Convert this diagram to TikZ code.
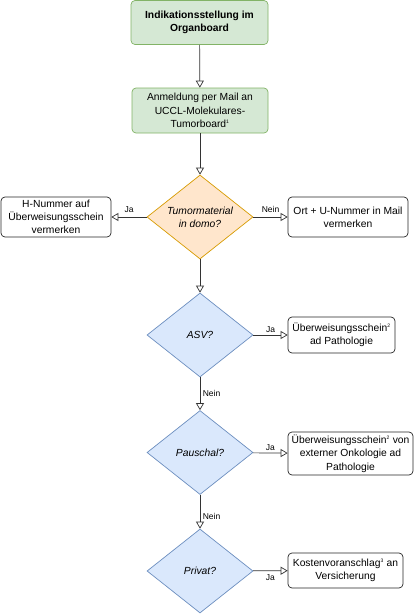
\documentclass[tikz,border=0pt]{standalone}
\usepackage{fontspec}
\setmainfont{Liberation Sans}
\usetikzlibrary{shapes.geometric, arrows.meta}
\definecolor{boardgreen}{RGB}{213, 232, 212}
\definecolor{boardgreenline}{RGB}{130, 179, 102}
\definecolor{matorange}{RGB}{255, 230, 204}
\definecolor{matorangeline}{RGB}{215, 155, 0}
\definecolor{askblue}{RGB}{218, 232, 252}
\definecolor{askblueline}{RGB}{108, 142, 191}
\newcommand{\fnmark}[1]{\textsuperscript{\fontsize{5}{5}\selectfont #1}}

\begin{document}
\begin{tikzpicture}[x=1pt, y=-1pt,
  font=\fontsize{10.3}{13.3}\selectfont,
  stepbox/.style={draw, rounded corners=4pt, align=center, inner sep=1pt, line width=0.7pt},
  greenbox/.style={stepbox, fill=boardgreen, draw=boardgreenline, minimum width=137pt, minimum height=44pt},
  notebox/.style={stepbox, fill=white, draw=black!85},
  query/.style={diamond, draw, aspect=1.26, inner sep=0pt, align=center, minimum width=106pt, minimum height=84pt, font=\fontsize{10.3}{13}\selectfont\itshape, line width=0.7pt},
  arr/.style={draw=black!80, line width=0.7pt, -{Triangle[open, length=7pt, width=8pt]}},
  lbl/.style={font=\fontsize{8.5}{9}\selectfont, inner sep=1.5pt}
]
  \useasboundingbox (0, 0) rectangle (414, 614);

  % main column
  \node[greenbox] (indik) at (199.5, 22.5) {\textbf{Indikationsstellung im}\\\textbf{Organboard}};
  \node[greenbox, minimum width=136pt, minimum height=45pt] (anmeldung) at (200, 110.5)
    {Anmeldung per Mail an\\UCCL-Molekulares-\\Tumorboard\fnmark{1}};
  \node[query, fill=matorange, draw=matorangeline] (tumormat) at (200, 217) {Tumormaterial\\in domo?};
  \node[query, fill=askblue, draw=askblueline] (asv) at (200, 335) {ASV?};
  \node[query, fill=askblue, draw=askblueline] (pauschal) at (200, 452.5) {Pauschal?};
  \node[query, fill=askblue, draw=askblueline] (privat) at (200, 571) {Privat?};

  % side notes
  \node[notebox, minimum width=110pt, minimum height=40pt] (hnummer) at (56, 217)
    {H-Nummer auf\\Überweisungsschein\\vermerken};
  \node[notebox, minimum width=120pt, minimum height=40pt] (ortnummer) at (348, 217)
    {Ort + U-Nummer in Mail\\vermerken};
  \node[notebox, minimum width=107pt, minimum height=36pt] (ueberw) at (341.5, 335)
    {Überweisungsschein\fnmark{2}\\ad Pathologie};
  \node[notebox, minimum width=125pt, minimum height=43pt] (ueberwext) at (350.5, 453.5)
    {Überweisungsschein\fnmark{2} von\\externer Onkologie ad\\Pathologie};
  \node[notebox, minimum width=115pt, minimum height=35pt] (kosten) at (345.5, 570.5)
    {Kostenvoranschlag\fnmark{3} an\\Versicherung};

  % connectors
  \draw[arr] (indik) -- (anmeldung);
  \draw[arr] (anmeldung) -- (tumormat);
  \draw[arr] (tumormat) -- node[lbl, above, yshift=3pt] (jaA) {Ja} (hnummer);
  \draw[arr] (tumormat) -- node[lbl, above, yshift=3pt] (neinA) {Nein} (ortnummer);
  \draw[arr] (tumormat) -- (asv);
  \draw[arr] (asv) -- node[lbl, above, yshift=1pt] (jaB) {Ja} (ueberw);
  \draw[arr] (asv) -- node[lbl, right, xshift=1pt] (neinB) {Nein} (pauschal);
  \draw[arr] (pauschal) -- node[lbl, above, yshift=1pt] (jaC) {Ja} (ueberwext);
  \draw[arr] (pauschal) -- node[lbl, right, pos=0.65, xshift=1pt] (neinC) {Nein} (privat);
  \draw[arr] (privat) -- node[lbl, below, yshift=-2pt] (jaD) {Ja} (kosten);
\end{tikzpicture}
\end{document}
